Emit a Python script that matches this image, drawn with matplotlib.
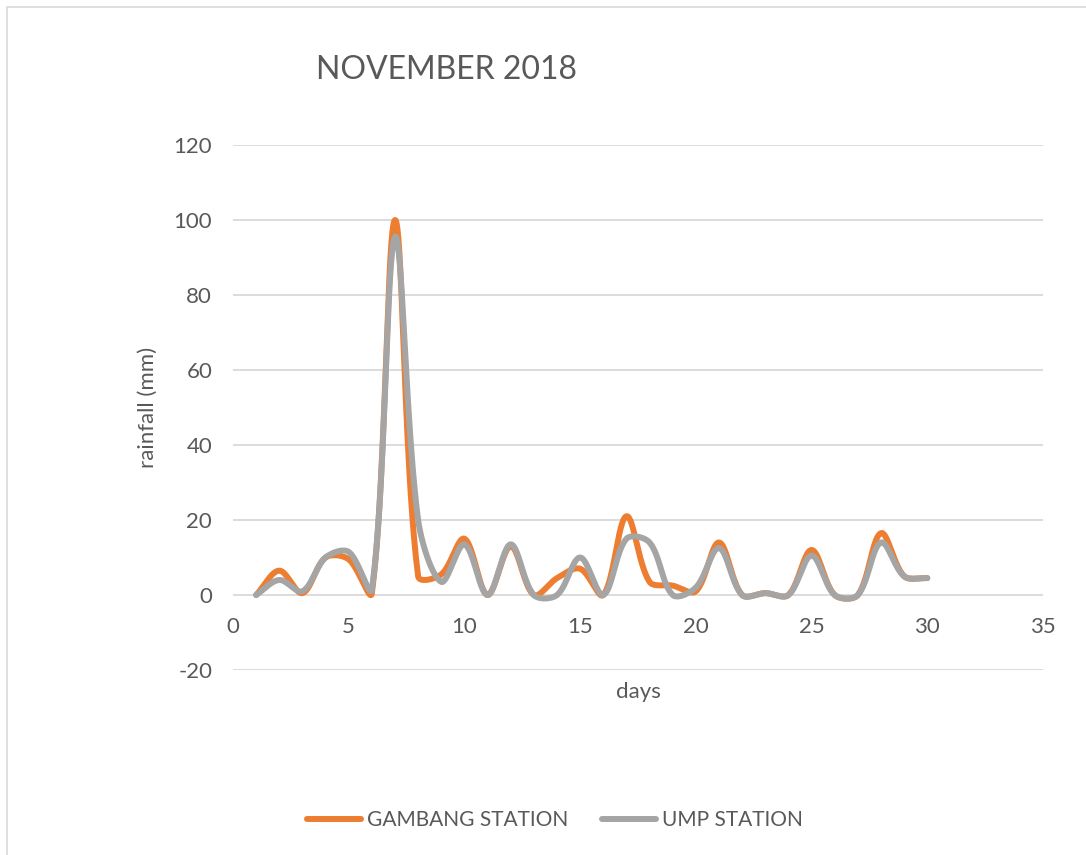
import numpy as np
import matplotlib
matplotlib.use("Agg")
import matplotlib.pyplot as plt
from matplotlib.patches import Rectangle

plt.rcParams['font.family'] = ['Lato', 'DejaVu Sans']
plt.rcParams['axes.unicode_minus'] = False

days = list(range(1, 31))
gambang = [0, 6.5, 0.5, 10, 9.5, 0.5, 100, 5, 5.5, 15,
           0, 13, 0, 4.5, 7, 0, 21, 3.5, 2.5, 1,
           14, 0, 0.5, 0, 12, 0, 0, 16.5, 5, 4.5]
ump = [0, 4, 1, 10, 11.5, 1.5, 95.5, 20, 3.5, 13.5,
       0, 13.5, 0, 0, 10, 0, 15, 14, 0, 2,
       12.5, 0, 0.5, 0, 10.5, 0, 0, 14, 5, 4.5]

x_ticks = [0, 5, 10, 15, 20, 25, 30, 35]
y_ticks = [-20, 0, 20, 40, 60, 80, 100, 120]

ORANGE = '#ED7D31'
GREY = '#A5A5A5'
TEXT = '#595959'

# pixels per data unit, used so the smoothing works in screen space
SX = 810 / 35
SY = 525 / 140


def smooth(xs, ys, steps=40):
    # bezier through every point; handle lengths follow the neighbouring segment lengths
    pts = np.column_stack([np.asarray(xs, float) * SX, np.asarray(ys, float) * SY])
    n = len(pts)
    out = []
    for i in range(n - 1):
        p1, p2 = pts[i], pts[i + 1]
        p0 = pts[max(i - 1, 0)]
        p3 = pts[min(i + 2, n - 1)]
        l01 = np.hypot(*(p1 - p0))
        l12 = np.hypot(*(p2 - p1))
        l23 = np.hypot(*(p3 - p2))
        c1 = p1 + (p2 - p0) * (l12 / (l01 + l12) / 3.0 if l01 + l12 > 0 else 0)
        c2 = p2 - (p3 - p1) * (l12 / (l12 + l23) / 3.0 if l12 + l23 > 0 else 0)
        t = np.linspace(0, 1, steps, endpoint=(i == n - 2))[:, None]
        seg = ((1 - t) ** 3) * p1 + 3 * ((1 - t) ** 2) * t * c1 \
            + 3 * (1 - t) * t ** 2 * c2 + t ** 3 * p2
        out.append(seg)
    out = np.vstack(out)
    return out[:, 0] / SX, out[:, 1] / SY


fig = plt.figure(figsize=(10.86, 8.55), dpi=100)
ax = fig.add_axes([233 / 1086, 1 - 670 / 855, 810 / 1086, 525 / 855])

gx, gy = smooth(days, gambang)
ux, uy = smooth(days, ump)
ax.plot(gx, gy, color=ORANGE, lw=4.3, solid_capstyle='round', label='GAMBANG STATION')
ax.plot(ux, uy, color=GREY, lw=4.3, solid_capstyle='round', label='UMP STATION')

ax.set_xlim(0, 35)
ax.set_ylim(-20, 120)
ax.set_xticks(x_ticks)
ax.set_yticks(y_ticks)
ax.grid(axis='y', color='#D9D9D9', lw=1.3)
ax.set_axisbelow(True)
for side in ['top', 'right', 'left']:
    ax.spines[side].set_visible(False)
ax.spines['bottom'].set_position(('data', 0))
ax.spines['bottom'].set_visible(False)
ax.tick_params(length=0, labelsize=16, colors=TEXT)
ax.tick_params(axis='x', pad=16)
ax.tick_params(axis='y', pad=15)

ax.set_xlabel('days', fontsize=16, color=TEXT, labelpad=32)
ax.set_ylabel('rainfall (mm)', fontsize=16, color=TEXT, labelpad=11)

fig.text(316 / 1086, 1 - 70 / 855, 'NOVEMBER 2018', fontsize=23, color=TEXT,
         ha='left', va='center')

leg = fig.legend(loc='center', bbox_to_anchor=(555 / 1086, 1 - 820 / 855), ncol=2,
                 frameon=False, fontsize=15, handlelength=2.6, handletextpad=0.3,
                 columnspacing=1.6)
for t in leg.get_texts():
    t.set_color(TEXT)

# chart area border (left and top edges only show)
fig.patches.append(Rectangle((7 / 1086, -0.1), 1.2, 1 - 7 / 855 + 0.1,
                             transform=fig.transFigure, fill=False,
                             edgecolor='#D9D9D9', lw=1.2))

fig.savefig('out.png', dpi=100)
